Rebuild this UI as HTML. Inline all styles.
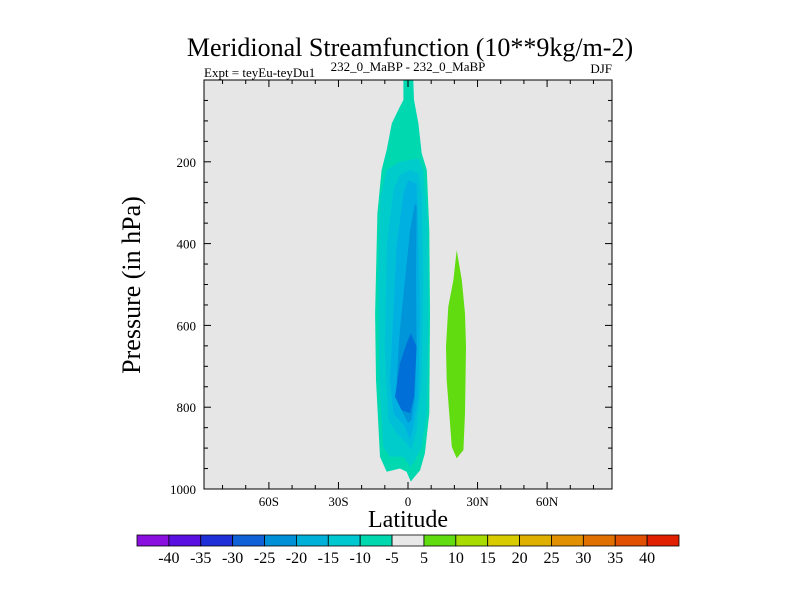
<!DOCTYPE html>
<html><head><meta charset="utf-8"><style>
html,body{margin:0;padding:0;background:#fff;}
svg{display:block;font-family:"Liberation Serif",serif;}
</style></head><body>
<svg id="chart" width="800" height="600" viewBox="0 0 800 600" xmlns="http://www.w3.org/2000/svg">
<text x="410" y="56" font-size="26" text-anchor="middle">Meridional Streamfunction (10**9kg/m-2)</text>
<text x="204" y="77" font-size="13">Expt = teyEu-teyDu1</text>
<text x="408" y="71" font-size="13" text-anchor="middle">232_0_MaBP - 232_0_MaBP</text>
<text x="612" y="73" font-size="13" text-anchor="end">DJF</text>
<rect x="204" y="80" width="408" height="409" fill="#e6e6e6"/>
<g id="contours"></g>
<g id="axes"></g>
<rect x="204" y="80" width="408" height="409" fill="none" stroke="#000" stroke-width="1"/>
<text x="140" y="285" font-size="26" text-anchor="middle" transform="rotate(-90 140 285)">Pressure (in hPa)</text>
<text x="408" y="527" font-size="24" text-anchor="middle">Latitude</text>
<g id="colorbar"></g>
</svg>
<script>
const NS="http://www.w3.org/2000/svg";
// Contour levels and colors
const levels=[-40,-35,-30,-25,-20,-15,-10,-5,5,10,15,20,25,30,35,40];
const colors=["#8a10e0","#5a10e0","#2030d8","#1060d8","#0090d8","#00b0d8","#00c8d0","#00d8b0","#e8e8e8","#60dc10","#a8dc00","#d8cc00","#e0b000","#e09000","#e07000","#e05000","#e02000"];
// Contour polygons (lat, pressure)
const region5Lat=[-2.0,2.3,2.6,4.5,5.9,8.1,9.2,9.5,9.2,7.3,5.2,2.3,1.2,-0.6,-3.5,-9.2,-12.1,-13.8,-14.2,-13.2,-11.4,-9.2,-7.0,-3.5,-2.0];
const region5P=[0,0,49,106,179,220,367,571,815,913,954,974,982,958,950,958,921,734,571,326,220,171,106,65,49];
const region10Lat=[0.1,4.5,6.6,8.4,8.8,8.1,5.9,2.3,0.9,-2.0,-7.8,-10.7,-12.4,-12.8,-11.8,-9.2,-3.5];
const region10P=[196,192,220,342,571,815,897,937,945,921,921,897,734,489,285,220,200];
const region15Lat=[0.9,4.5,5.9,6.6,5.9,3.7,1.5,-0.6,-4.9,-8.5,-10.0,-9.2,-6.3,-3.5];
const region15P=[220,228,285,489,734,856,905,888,864,831,652,408,269,232];
const region20Lat=[0.1,3.7,4.5,5.2,4.5,2.3,0.9,-1.3,-6.3,-7.8,-6.3,-4.9,-2.0];
const region20P=[245,253,367,571,774,848,880,848,815,734,571,408,277];
const region25Lat=[3.0,3.7,3.5,3.7,3.0,1.5,0.1,-2.8,-4.9,-3.5,-1.3,0.9];
const region25P=[302,310,489,652,774,831,839,807,734,611,489,367];
const region30Lat=[1.2,3.7,2.6,0.9,-2.8,-5.6,-3.5,-0.6];
const region30P=[619,652,774,815,807,774,693,644];
const regionPos5Lat=[21.0,23.2,24.6,25.0,24.6,23.9,21.0,18.9,16.7,16.4,17.4,19.6];
const regionPos5P=[416,489,571,652,815,905,925,897,734,652,554,489];
// Axis tick data
const xTickVals=[-60,-30,0,30,60];
const xTickLabels=["60S","30S","0","30N","60N"];
const yTickVals=[200,400,600,800,1000];
const yTickLabels=["200","400","600","800","1000"];

const L=204,R=612,T=80,B=489,LATMIN=-88,LATMAX=88,PMIN=0,PMAX=1000;
const xs=lat=>L+(lat-LATMIN)/(LATMAX-LATMIN)*(R-L);
const ys=p=>T+(p-PMIN)/(PMAX-PMIN)*(B-T);

const cg=document.getElementById('contours');
function poly(lats,ps,color,name){
  const el=document.createElementNS(NS,'polygon');
  el.setAttribute('points',lats.map((v,i)=>xs(v).toFixed(1)+','+ys(ps[i]).toFixed(1)).join(' '));
  el.setAttribute('fill',color);
  
  
  cg.appendChild(el);
}
poly(region5Lat,region5P,"#00d8b0",'contour-minus5');
poly(region10Lat,region10P,"#00cccc",'contour-minus10');
poly(region15Lat,region15P,"#00c0d8",'contour-minus15');
poly(region20Lat,region20P,"#00b0e0",'contour-minus20');
poly(region25Lat,region25P,"#0094d8",'contour-minus25');
poly(region30Lat,region30P,"#0070d8",'contour-minus30');
poly(regionPos5Lat,regionPos5P,colors[9],'contour-plus5');

const ag=document.getElementById('axes');
function line(x1,y1,x2,y2,name){
  const el=document.createElementNS(NS,'line');
  el.setAttribute('x1',x1);el.setAttribute('y1',y1);el.setAttribute('x2',x2);el.setAttribute('y2',y2);
  el.setAttribute('stroke','#000');el.setAttribute('stroke-width','1');
  
  
  ag.appendChild(el);
}
function text(x,y,s,anchor,size,name,parent){
  const el=document.createElementNS(NS,'text');
  el.setAttribute('x',x);el.setAttribute('y',y);el.setAttribute('text-anchor',anchor);
  el.setAttribute('font-size',size);el.textContent=s;
  
  
  (parent||ag).appendChild(el);
}
for(let lat=-80;lat<=80;lat+=10){
  const major=lat%30===0, len=major?7:4, x=xs(lat);
  line(x,B,x,B-len,'x-tick');line(x,T,x,T+len,'x-tick-top');
}
for(let p=50;p<1000;p+=50){
  const major=p%200===0, len=major?7:4, y=ys(p);
  line(L,y,L+len,y,'y-tick');line(R,y,R-len,y,'y-tick-right');
}
xTickVals.forEach((v,i)=>text(xs(v),506,xTickLabels[i],'middle',13,'x-tick-label'));
yTickVals.forEach((v,i)=>text(L-8,ys(v)+5,yTickLabels[i],'end',13,'y-tick-label'));

const cb=document.getElementById('colorbar');
const CBL=137,CBR=679,CBT=535,CBH=11,w=(CBR-CBL)/colors.length;
colors.forEach((c,i)=>{
  const r=document.createElementNS(NS,'rect');
  r.setAttribute('x',CBL+i*w);r.setAttribute('y',CBT);r.setAttribute('width',w);r.setAttribute('height',CBH);
  r.setAttribute('fill',c);r.setAttribute('stroke','#000');r.setAttribute('stroke-width','0.8');
  
  
  cb.appendChild(r);
});
levels.forEach((v,i)=>text(CBL+(i+1)*w,563,String(v),'middle',16,'colorbar-label',cb));
</script>
</body></html>
